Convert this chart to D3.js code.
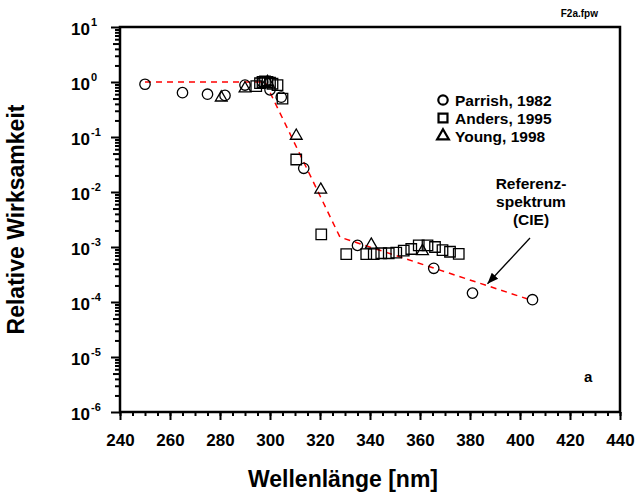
<!DOCTYPE html>
<html>
<head>
<meta charset="utf-8">
<script src="https://cdn.jsdelivr.net/npm/d3@7"></script>
<style>
  body { margin: 0; background: #fff; }
  text { font-family: "Liberation Sans", Arial, sans-serif; font-weight: bold; fill: #000; }
</style>
</head>
<body>
<svg id="chart" width="641" height="496"></svg>
<script>
// Parrish, 1982 (circles)
const parrish = [
    [250, 0.91], [265, 0.64], [275, 0.60], [282, 0.57], [290, 0.88],
    [297, 1.0], [300, 0.72], [304.5, 0.53], [313.5, 0.027], [335, 0.00107],
    [365.5, 0.00041], [381, 0.000145], [405, 0.00011]
];

// Anders, 1995 (squares)
const anders = [
    [294.5, 0.84], [296, 0.95], [297, 1.0], [298, 1.03], [299, 1.0],
    [300, 0.97], [301, 0.93], [303, 0.88], [305, 0.50], [310.5, 0.039],
    [320.5, 0.0017], [330.5, 0.00074], [338.5, 0.00074], [341.5, 0.00074],
    [344.5, 0.00077], [347.5, 0.00077], [350.5, 0.00079], [353.5, 0.00086],
    [356.5, 0.00092], [359.5, 0.00107], [363, 0.00107], [366, 0.001],
    [369, 0.00088], [372, 0.00082], [375.5, 0.00075]
];

// Young, 1998 (triangles)
const young = [
    [280.5, 0.52], [290, 0.76], [299, 1.0], [310.5, 0.105], [320.3, 0.011],
    [340.5, 0.0011], [361, 0.00084]
];

// CIE reference spectrum, vertices of the dashed line
const cie = [[250, 1], [298, 1], [328, 0.00151], [405, 0.000106]];

const xMajor = d3.range(240, 441, 20);
const xMinor = d3.range(240, 441, 5);
const yExponents = [1, 0, -1, -2, -3, -4, -5, -6];

const legendItems = [
    { label: "Parrish, 1982", shape: "circle" },
    { label: "Anders, 1995", shape: "square" },
    { label: "Young, 1998", shape: "triangle" }
];

const svg = d3.select("#chart");
const plotLeft = 120, plotRight = 620, plotTop = 27, plotBottom = 412;

const x = d3.scaleLinear().domain([240, 440]).range([plotLeft, plotRight]);
const y = d3.scaleLog().domain([1e-6, 10]).range([plotBottom, plotTop]);

// minor y values
const yMinor = [];
for (let e = -6; e < 1; e++) {
    for (let k = 2; k <= 9; k++) yMinor.push(k * Math.pow(10, e));
}

// x ticks
const xAxisMinor = d3.axisBottom(x).tickValues(xMinor).tickSize(4).tickFormat("");
const xAxisMajor = d3.axisBottom(x).tickValues(xMajor).tickSize(8).tickPadding(14)
    .tickFormat(d3.format("d"));

const gx1 = svg.append("g").attr("transform", `translate(0,${plotBottom})`).call(xAxisMinor);
const gx2 = svg.append("g").attr("transform", `translate(0,${plotBottom})`).call(xAxisMajor);
[gx1, gx2].forEach(g => {
    g.select(".domain").remove();
    g.selectAll("line").attr("stroke", "#000").attr("stroke-width", 2);
});
gx2.selectAll("text").attr("font-size", 17).attr("font-family", null);

// y ticks
const yAxisMinor = d3.axisLeft(y).tickValues(yMinor).tickFormat("").tickSizeInner(5);
const gy1 = svg.append("g").attr("transform", `translate(${plotLeft},0)`).call(yAxisMinor);
gy1.selectAll(".tick line")
    .attr("x2", d => Math.round(d / Math.pow(10, Math.floor(Math.log10(d) + 1e-9))) === 5 ? -7 : -5);
const yAxisMajor = d3.axisLeft(y).tickValues(yExponents.map(e => Math.pow(10, e)))
    .tickFormat("").tickSizeInner(9);
const gy2 = svg.append("g").attr("transform", `translate(${plotLeft},0)`).call(yAxisMajor);
[gy1, gy2].forEach(g => {
    g.select(".domain").remove();
    g.selectAll("line").attr("stroke", "#000").attr("stroke-width", 2);
});

// y tick labels 10^n
const ylab = svg.append("g");
yExponents.forEach(e => {
    const yy = y(Math.pow(10, e));
    ylab.append("text").attr("x", 90).attr("y", yy + 8)
        .attr("text-anchor", "end").attr("font-size", 17).text("10");
    ylab.append("text").attr("x", 91).attr("y", yy - 1)
        .attr("font-size", 11).text(e);
});

// frame
svg.append("rect")
    .attr("x", plotLeft).attr("y", plotTop)
    .attr("width", plotRight - plotLeft).attr("height", plotBottom - plotTop)
    .attr("fill", "none").attr("stroke", "#000").attr("stroke-width", 2.5);

// reference line
const line = d3.line().x(d => x(d[0])).y(d => y(d[1]));
svg.append("path").datum(cie)
    .attr("d", line)
    .attr("fill", "none").attr("stroke", "#ff0000")
    .attr("stroke-width", 1.5).attr("stroke-dasharray", "6,5");

// symbols
const sym = {
    circle: d3.symbol().type(d3.symbolCircle).size(85),
    square: d3.symbol().type(d3.symbolSquare).size(110),
    triangle: d3.symbol().type(d3.symbolTriangle).size(60)
};

const drawSeries = (data, shape) => {
    svg.append("g").selectAll("path")
        .data(data)
        .enter()
        .append("path")
        .attr("transform", d => `translate(${x(d[0])},${y(d[1])})`)
        .attr("d", sym[shape]())
        .attr("fill", "none").attr("stroke", "#000").attr("stroke-width", 1.3);
};
drawSeries(parrish, "circle");
drawSeries(anders, "square");
drawSeries(young, "triangle");

// legend
const legendSym = {
    circle: d3.symbol().type(d3.symbolCircle).size(70),
    square: d3.symbol().type(d3.symbolSquare).size(80),
    triangle: d3.symbol().type(d3.symbolTriangle).size(60)
};
const lg = svg.append("g").attr("transform", "translate(443,100)");
legendItems.forEach((item, i) => {
    const row = lg.append("g").attr("transform", `translate(0,${i * 18})`);
    row.append("path").attr("d", legendSym[item.shape]())
        .attr("fill", "none").attr("stroke", "#000").attr("stroke-width", 2.2);
    row.append("text").attr("x", 12).attr("y", 5.5)
        .attr("font-size", 15.5).text(item.label);
});

// annotation
const ann = svg.append("g");
["Referenz-", "spektrum", "(CIE)"].forEach((t, i) => {
    ann.append("text").attr("x", 531).attr("y", 189 + i * 18)
        .attr("text-anchor", "middle").attr("font-size", 15.5).text(t);
});
svg.append("defs").append("marker")
    .attr("id", "arrow").attr("viewBox", "0 0 10 10")
    .attr("refX", 10).attr("refY", 5)
    .attr("markerWidth", 11).attr("markerHeight", 11)
    .attr("markerUnits", "userSpaceOnUse")
    .attr("orient", "auto")
    .append("path").attr("d", "M0,1 L10,5 L0,9 Z").attr("fill", "#000");
ann.append("line")
    .attr("x1", 530).attr("y1", 238)
    .attr("x2", x(387)).attr("y2", y(0.000197) - 2)
    .attr("stroke", "#000").attr("stroke-width", 1.3)
    .attr("marker-end", "url(#arrow)");

// labels
svg.append("text").attr("x", 598).attr("y", 17).attr("text-anchor", "end")
    .attr("font-size", 10).text("F2a.fpw");
svg.append("text").attr("x", 584).attr("y", 382).attr("font-size", 15).text("a");

svg.append("text")
    .attr("transform", `translate(24,${(plotTop + plotBottom) / 2}) rotate(-90)`)
    .attr("text-anchor", "middle").attr("font-size", 23)
    .text("Relative Wirksamkeit");
svg.append("text")
    .attr("x", 343).attr("y", 487)
    .attr("text-anchor", "middle").attr("font-size", 23)
    .text("Wellenlänge [nm]");
</script>
</body>
</html>
